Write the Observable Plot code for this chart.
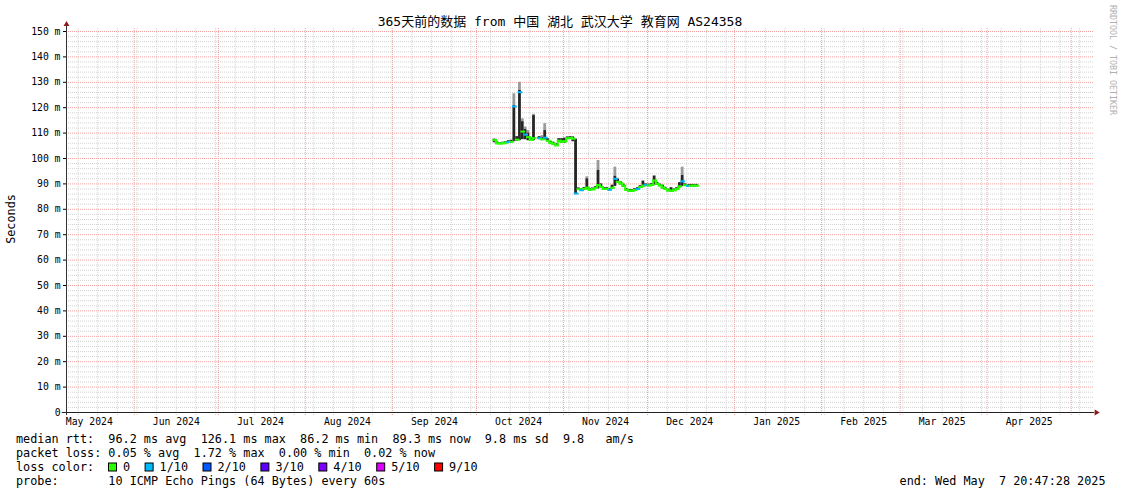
<!DOCTYPE html>
<html>
<head>
<meta charset="utf-8">
<script src="https://cdn.jsdelivr.net/npm/d3@7"></script>
<script src="https://cdn.jsdelivr.net/npm/@observablehq/plot@0.6"></script>
<style>
  html, body { margin: 0; padding: 0; background: #fff; }
  #chart svg { display: block; }
</style>
</head>
<body>
<div id="chart"></div>
<script>
// ---- texts ---------------------------------------------------------------
const chartTitle = "365天前的数据 from 中国 湖北 武汉大学 教育网 AS24358";
const yAxisTitle = "Seconds";
const statLines = [
  "median rtt:  96.2 ms avg  126.1 ms max  86.2 ms min  89.3 ms now  9.8 ms sd  9.8   am/s",
  "packet loss: 0.05 % avg  1.72 % max  0.00 % min  0.02 % now"
];
const lossHeading = "loss color:";
const probeLine = "probe:       10 ICMP Echo Pings (64 Bytes) every 60s";
const endLine = "end: Wed May  7 20:47:28 2025";
const creditLine = "RRDTOOL / TOBI OETIKER";

// ---- axes ----------------------------------------------------------------
const yTicks = [0, 10, 20, 30, 40, 50, 60, 70, 80, 90, 100, 110, 120, 130, 140, 150];
const monthLabels = ["May 2024", "Jun 2024", "Jul 2024", "Aug 2024", "Sep 2024", "Oct 2024",
                     "Nov 2024", "Dec 2024", "Jan 2025", "Feb 2025", "Mar 2025", "Apr 2025"];

// ---- loss classes --------------------------------------------------------
const lossLabels = ["0", "1/10", "2/10", "3/10", "4/10", "5/10", "9/10"];
const lossColors = ["#26ff00", "#00b8ff", "#0059ff", "#5e00ff", "#7e00ff", "#dd00ff", "#ff0000"];

// ---- daily consolidated samples (ms) -------------------------------------
const sampleDays = [
  "10-07","10-08","10-09","10-10","10-11","10-12","10-13","10-14","10-15","10-16",
  "10-17","10-18","10-19","10-20","10-21","10-22","10-23","10-24","10-25","10-26",
  "10-27","10-28","10-29","10-30","10-31","11-01","11-02","11-03","11-04","11-05",
  "11-06","11-07","11-08","11-09","11-10","11-11","11-12","11-13","11-14","11-15",
  "11-16","11-17","11-18","11-19","11-20","11-21","11-22","11-23","11-24","11-25",
  "11-26","11-27","11-28","11-29","11-30","12-01","12-02","12-03","12-04","12-05",
  "12-06","12-07","12-08","12-09","12-10","12-11","12-12","12-13","12-14","12-15",
  "12-16","12-17","12-18"
];
const median = [
  107.2,106.0,105.9,106.0,106.2,106.5,106.6,120.5,107.4,126.1,
  110.6,109.4,108.4,107.3,108.0,null, 108.0,107.6,108.2,107.0,
  106.2,105.8,105.2,107.0,106.6,106.8,108.0,108.1,107.8,86.2,
  87.9, 87.5, 88.1, 88.5, 87.7, 87.9, 88.4, 89.5, 88.8, 88.0,
  88.1, 87.7, 88.5, 92.0, 90.8, 90.2, 89.3, 87.7, 87.3, 87.3,
  87.6, 88.0, 88.8, 89.3, 89.5, 89.4, 89.6, 91.3, 90.0, 89.4,
  88.6, 88.0, 87.4, 87.3, 87.5, 88.0, 89.0, 91.0, 89.5, 89.2,
  89.3, 89.3, 89.3
];
const smokeLow = [
  106.2,105.6,105.5,105.6,105.8,106.0,106.1,106.6,106.8,107.0,
  107.4,107.4,107.0,106.8,107.0,null, 107.4,107.0,107.3,106.5,
  105.7,105.3,104.8,106.4,106.0,106.0,107.5,107.6,106.6,86.0,
  87.4, 87.0, 87.6, 87.8, 87.2, 87.4, 87.9, 88.0, 88.2, 87.5,
  87.6, 87.2, 88.0, 89.0, 90.2, 89.6, 88.6, 87.2, 86.8, 86.8,
  87.1, 87.5, 88.3, 88.8, 89.0, 88.9, 89.1, 89.5, 89.4, 88.9,
  88.0, 87.5, 86.9, 86.8, 87.0, 87.5, 88.4, 89.0, 89.0, 88.7,
  88.8, 88.8, 88.8
];
const smokeHigh = [
  107.6,106.5,106.3,106.4,106.6,107.0,107.2,120.9,108.6,126.8,
  114.5,111.4,110.0,108.0,116.9,null, 108.6,108.3,111.0,107.8,
  106.8,106.4,105.8,107.8,107.8,108.0,108.5,108.6,108.5,107.6,
  88.4, 88.0, 88.6, 92.0, 88.2, 88.4, 88.9, 95.3, 90.0, 88.5,
  88.6, 88.2, 89.5, 93.0, 91.8, 90.8, 89.9, 88.2, 87.8, 87.8,
  88.1, 88.5, 89.3, 91.0, 90.0, 89.9, 90.1, 93.0, 90.6, 89.9,
  89.5, 88.5, 87.9, 88.5, 88.0, 88.5, 90.5, 93.3, 90.0, 89.7,
  89.8, 89.8, 89.8
];
const smokePeak = [
  107.6,106.5,106.3,106.4,106.6,107.0,107.2,125.5,108.6,130.0,
  115.6,112.4,111.0,108.0,117.4,null, 108.6,109.0,113.7,107.8,
  106.8,106.4,105.8,107.8,107.8,108.0,108.5,108.6,108.5,107.6,
  88.4, 88.0, 88.6, 92.8, 88.2, 88.4, 88.9, 99.2, 90.0, 88.5,
  88.6, 88.2, 89.5, 96.6, 92.2, 90.8, 89.9, 88.2, 87.8, 87.8,
  88.1, 88.5, 89.3, 91.3, 90.0, 89.9, 90.1, 93.3, 90.6, 89.9,
  89.5, 88.5, 87.9, 88.5, 88.0, 88.5, 90.5, 96.6, 90.0, 89.7,
  89.8, 89.8, 89.8
];
const lossTenths = [
  0,0,0,0,0,1,0,1,0,1,
  0,1,0,0,0,0,1,0,1,0,
  0,0,0,0,0,0,0,0,0,1,
  0,1,0,0,0,0,0,0,0,0,
  0,1,0,1,0,0,0,0,0,0,
  0,1,0,0,1,0,0,0,0,0,
  0,0,0,0,0,0,0,1,0,1,
  0,0,0
];

// ---- build records -------------------------------------------------------
const rangeEnd = new Date(2025, 4, 7, 20, 47, 28);
const rangeStart = new Date(2024, 4, 7, 20, 47, 28);

function lossColor(tenths) {
  const idx = tenths >= 9 ? 6 : Math.min(tenths, 5);
  return lossColors[idx];
}

const samples = sampleDays.map((s, i) => {
  const [m, d] = s.split("-").map(Number);
  const start = new Date(2024, m - 1, d);
  return {
    start, end: d3.timeDay.offset(start, 1),
    median: median[i], low: smokeLow[i], high: smokeHigh[i], peak: smokePeak[i],
    loss: lossTenths[i]
  };
}).filter(r => r.median != null);

// median drawn as steps; vertical joins only inside one loss class
const medianSegments = [];
samples.forEach((r, i) => {
  medianSegments.push({x1: r.start, x2: r.end, y1: r.median, y2: r.median, color: lossColor(r.loss)});
  const n = samples[i + 1];
  if (n && +n.start === +r.end && n.loss === r.loss) {
    medianSegments.push({x1: r.end, x2: r.end, y1: r.median, y2: n.median, color: lossColor(r.loss)});
  }
});

// grid positions
const minorY = d3.range(2, 150, 2).filter(v => v % 10 !== 0);
const majorY = d3.range(10, 151, 10);
const weekLines = d3.timeSunday.range(rangeStart, rangeEnd);
const monthLines = d3.timeMonth.range(rangeStart, rangeEnd);
const labelDates = monthLabels.map((_, i) => d3.timeDay.offset(d3.timeMonth.offset(new Date(2024, 4, 1), i), 15));
const labelByTime = new Map(labelDates.map((d, i) => [+d, monthLabels[i]]));

const gridRight = d3.timeHour.offset(rangeEnd, 28);
const axisLeft = d3.timeHour.offset(rangeStart, -36);
const axisRight = d3.timeHour.offset(rangeEnd, 36);
const arrowX = d3.timeHour.offset(rangeEnd, 50);

const gray = "#d2d2d2";
const red = "#f3a0a0";

const chart = Plot.plot({
  width: 1121,
  height: 494,
  marginLeft: 66,
  marginRight: 31,
  marginTop: 31,
  marginBottom: 82,
  style: {fontFamily: "'DejaVu Sans Mono', monospace", fontSize: "9.75px", color: "#000", background: "#fff", overflow: "visible"},
  color: {type: "identity"},
  x: {type: "time", domain: [rangeStart, rangeEnd], ticks: labelDates, tickFormat: d => labelByTime.get(+d) ?? "", tickSize: 0, tickPadding: 6, label: null},
  y: {domain: [0, 150], ticks: yTicks, tickFormat: d => d === 0 ? "0" : `${d} m`, tickSize: 3, tickPadding: 3, label: null},
  marks: [
    Plot.ruleY(minorY, {x1: () => rangeStart, x2: () => gridRight, stroke: gray, strokeDasharray: "1,1"}),
    Plot.ruleX(weekLines, {y1: () => -1.2, y2: () => 151.6, stroke: gray, strokeDasharray: "1,1"}),
    Plot.ruleY(majorY, {x1: () => rangeStart, x2: () => gridRight, stroke: red, strokeDasharray: "1,1"}),
    Plot.ruleX(monthLines, {y1: () => -1.2, y2: () => 151.6, stroke: red, strokeDasharray: "1,1"}),
    // smoke: light tips above the dense part, dark dense part
    Plot.rect(samples, {x1: "start", x2: "end", y1: "high", y2: "peak", fill: "#9a9a9a"}),
    Plot.rect(samples, {x1: "start", x2: "end", y1: "low", y2: "high", fill: "#262626"}),
    // median rtt coloured by packet loss
    Plot.link(medianSegments, {x1: "x1", y1: "y1", x2: "x2", y2: "y2", stroke: "color", strokeWidth: 2, strokeLinecap: "square"}),
    // axis lines with arrows
    Plot.ruleX([rangeStart], {y1: () => -1.2, y2: () => 152.5, stroke: "#333"}),
    Plot.ruleY([0], {x1: () => axisLeft, x2: () => axisRight, stroke: "#222"}),
    Plot.dot([rangeStart], {x: d => d, y: () => 152.8, symbol: "triangle", r: 2.2, fill: "#8b1a1a", stroke: "none"}),
    Plot.dot([arrowX], {x: d => d, y: () => 0, symbol: "triangle", r: 2.2, rotate: 90, fill: "#8b1a1a", stroke: "none"})
  ]
});

document.getElementById("chart").appendChild(chart);

// ---- title, legend and notes ----------------------------------------------
const svg = d3.select(chart);
const mono = "'DejaVu Sans Mono', monospace";
const titleFont = "'DejaVu Sans Mono', 'Noto Sans CJK SC', monospace";

function addText(x, y, str, opts = {}) {
  return svg.append("text")
    .attr("x", x).attr("y", y)
    .attr("font-family", opts.font || mono)
    .attr("font-size", opts.size || "11.8px")
    .attr("fill", opts.fill || "#000")
    .attr("text-anchor", opts.anchor || "start")
    .style("white-space", "pre")
    .attr("xml:space", "preserve")
    .text(str);
}

addText(560, 25.5, chartTitle, {font: titleFont, size: "13px", anchor: "middle"});

svg.append("text")
  .attr("transform", "translate(15,219) rotate(-90)")
  .attr("font-family", mono).attr("font-size", "11.8px").attr("fill", "#000")
  .attr("text-anchor", "middle")
  .text(yAxisTitle);

svg.append("text")
  .attr("transform", "translate(1109.5,5) rotate(90)")
  .attr("font-family", mono).attr("font-size", "8.3px").attr("fill", "#b0b0b0")
  .attr("text-anchor", "start")
  .text(creditLine);

const rowY = [442.5, 456.5, 470.5, 484.5];
addText(16, rowY[0], statLines[0]);
addText(16, rowY[1], statLines[1]);
addText(16, rowY[2], lossHeading);

// loss colour swatches laid out one after the other
let cx = 108;
lossLabels.forEach((lab, i) => {
  svg.append("rect")
    .attr("x", cx + 0.5).attr("y", rowY[2] - 7.5)
    .attr("width", 8).attr("height", 8)
    .attr("fill", lossColors[i]).attr("stroke", "#000").attr("stroke-width", 1);
  addText(cx + 15, rowY[2], lab);
  cx += 15 + lab.length * 7.1 + 14.5;
});

addText(16, rowY[3], probeLine);
addText(1105.5, rowY[3], endLine, {anchor: "end"});
</script>
</body>
</html>
